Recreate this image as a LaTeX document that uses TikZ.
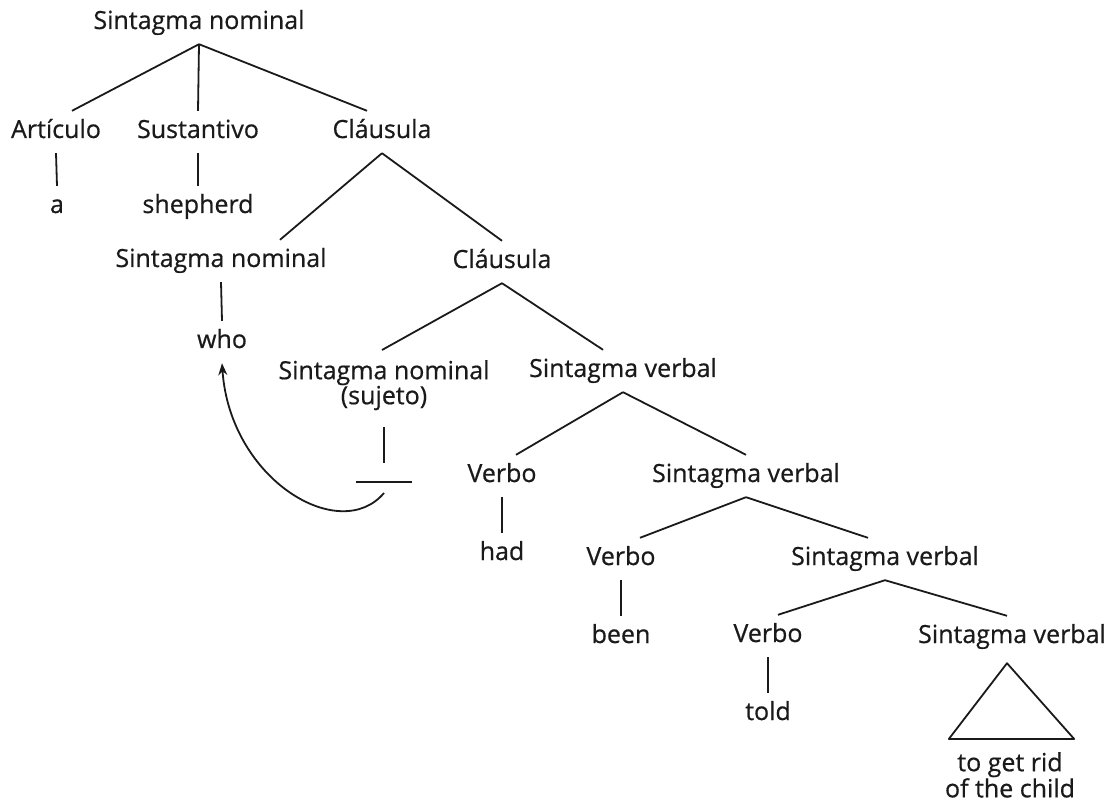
\documentclass[tikz,border=0pt]{standalone}
\usepackage{fontspec}
\setmainfont{Open Sans}[FakeBold=0.6]
\usetikzlibrary{arrows.meta,calc}
\definecolor{ink}{HTML}{1A1A1A}
\tikzset{
  lab/.style={font=\fontsize{25}{25}\selectfont, text=ink, inner xsep=0pt,
    inner ysep=10pt, align=center},
  cat/.style={lab, text height=17pt, text depth=5pt},
  branch/.style={line width=1.8pt, draw=ink},
  movearr/.style={-{Stealth[length=12pt,width=9pt]}, line width=1.8pt, draw=ink}
}
\begin{document}
\begin{tikzpicture}[x=1pt,y=-1pt]
  \useasboundingbox (0,0) rectangle (1112,805);
  % upper part
  \node[cat] (sn0) at (199,23) {Sintagma nominal};
  \node[cat] (art) at (56,132) {Artículo};
  \node[cat] (sus) at (198,132) {Sustantivo};
  \node[cat] (cl1) at (382,132) {Cláusula};
  \node[cat] (a) at (57,207) {a};
  \node[cat] (shep) at (198,207) {shepherd};
  \node[cat] (sn2) at (221,261) {Sintagma nominal};
  \node[cat] (cl2) at (502,262) {Cláusula};
  \node[cat] (who) at (222,342) {who};
  % relative clause
  \node[lab, anchor=north] (subj) at (384,350) {Sintagma nominal\\(sujeto)};
  \node[cat] (sv1) at (623,371) {Sintagma verbal};
  \node[cat] (vb1) at (502,476) {Verbo};
  \node[cat] (sv2) at (746,476) {Sintagma verbal};
  \node[cat] (had) at (502,554) {had};
  \node[cat] (vb2) at (621,559) {Verbo};
  \node[cat] (sv3) at (885,559) {Sintagma verbal};
  \node[cat] (been) at (621,637) {been};
  \node[cat] (vb3) at (768,636) {Verbo};
  \node[cat] (sv4) at (1012,637) {Sintagma verbal};
  \node[cat] (told) at (768,714) {told};
  \node[lab, anchor=north, inner ysep=13pt] (rid) at (1010,739) {to get rid\\of the child};
  % branches
  \foreach \p/\c/\s in {sn0/art/16pt, sn0/sus/0pt, sn0/cl1/-15pt, cl1/sn2/59pt,
      cl1/cl2/0pt, cl2/subj/-2pt, cl2/sv1/-20pt, sv1/vb1/14pt, sv1/sv2/0pt,
      sv2/vb2/19pt, sv2/sv3/-17pt, sv3/vb3/10pt, sv3/sv4/-5pt}
    \draw[branch] (\p.south) -- ([xshift=\s]\c.north);
  \foreach \p/\c in {art/a, sus/shep, sn2/who, vb1/had, vb2/been, vb3/told}
    \draw[branch] (\p.south) -- (\c.north);
  \draw[branch, line join=round] ([xshift=-5pt,yshift=-5pt]sv4.south)
    -- ([xshift=4pt]rid.north west) -- ([xshift=-1pt]rid.north east) -- cycle;
  % trace and movement
  \node[minimum width=55pt, inner sep=0pt] (gap) at (384,482) {};
  \draw[branch] (gap.west) -- (gap.east);
  \draw[branch] ([yshift=-7pt]subj.south) -- ([yshift=19pt]gap.center);
  \draw[movearr] ([yshift=-11pt]gap.center) .. controls (340,545) and (230,480) .. (who.south);
\end{tikzpicture}
\end{document}
